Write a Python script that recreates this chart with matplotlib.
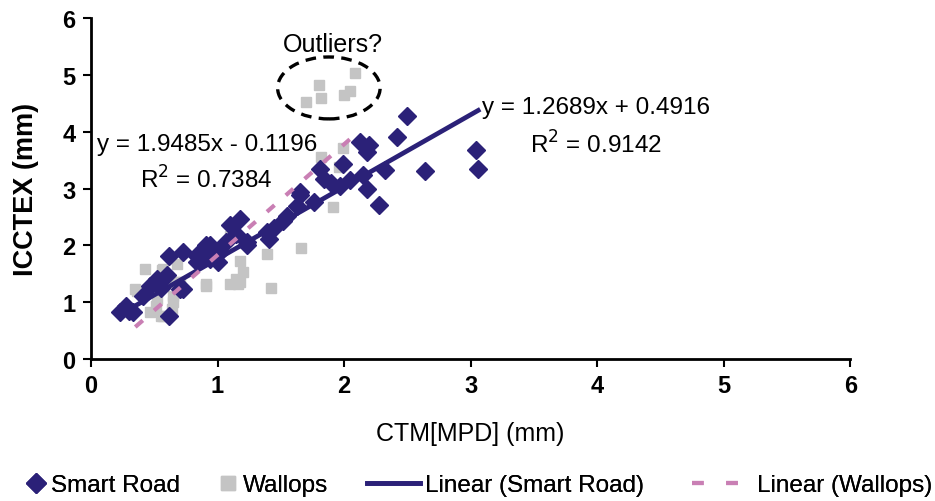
import numpy as np
import matplotlib
matplotlib.use("Agg")
import matplotlib.pyplot as plt
from matplotlib.patches import Ellipse
from matplotlib.lines import Line2D

plt.rcParams['font.family'] = ['Liberation Sans', 'DejaVu Sans']

# Smart Road (CTM MPD, ICCTEX), mm
smart_x = [0.23, 0.28, 0.33, 0.41, 0.47, 0.52, 0.60, 0.62, 0.62, 0.70, 0.73,
           0.73, 0.84, 0.84, 0.86, 0.91, 0.94, 0.94, 1.02, 1.07, 1.10, 1.18,
           1.23, 1.23, 1.39, 1.41, 1.52, 1.55, 1.63, 1.65, 1.65, 1.76, 1.81,
           1.84, 1.97, 1.99, 2.13, 2.15, 2.18, 2.18, 2.20, 2.28, 2.32, 2.42,
           2.50, 2.64, 3.04, 3.06, 0.30, 0.55, 1.00, 1.15, 1.45, 1.90, 2.05]
smart_y = [0.82, 0.94, 0.82, 1.11, 1.29, 1.41, 1.47, 1.82, 0.76, 1.23, 1.88,
           1.23, 1.82, 1.70, 1.88, 2.00, 2.00, 1.76, 1.88, 2.05, 2.35, 2.46,
           2.00, 2.05, 2.23, 2.11, 2.43, 2.52, 2.70, 2.93, 2.88, 2.76, 3.35,
           3.17, 3.05, 3.43, 3.82, 3.23, 3.64, 3.00, 3.76, 2.71, 3.33, 3.90,
           4.28, 3.31, 3.68, 3.35, 0.85, 1.25, 1.70, 2.20, 2.30, 3.10, 3.15]

# Wallops
wall_x = [0.35, 0.36, 0.43, 0.47, 0.51, 0.52, 0.55, 0.56, 0.57, 0.57, 0.60,
          0.64, 0.65, 0.65, 0.68, 0.68, 0.70, 0.91, 0.91, 1.10, 1.10, 1.15,
          1.16, 1.18, 1.18, 1.20, 1.39, 1.42, 1.66, 1.82, 1.91, 1.96, 1.99,
          1.70, 1.80, 1.82, 2.00, 2.05, 2.09]
wall_y = [1.23, 1.20, 1.58, 0.82, 0.94, 1.06, 0.76, 1.57, 1.58, 0.76, 1.35,
          0.88, 1.11, 1.00, 1.67, 1.35, 1.35, 1.29, 1.32, 2.16, 1.32, 1.41,
          1.32, 1.73, 1.35, 1.53, 1.85, 1.24, 1.95, 3.55, 2.68, 3.38, 3.71,
          4.53, 4.83, 4.59, 4.65, 4.72, 5.03]

smart_fit = (1.2689, 0.4916)
wall_fit = (1.9485, -0.1196)

navy = '#2b2178'
grey = '#c4c4c4'
pink = '#c97fb4'

fig = plt.figure(figsize=(9.35, 5.02), dpi=100)
ax = fig.add_axes([0.0973, 0.283, 0.812, 0.679])

h1, = ax.plot(smart_x, smart_y, 'D', color=navy, markersize=9.5,
              linestyle='none', zorder=3)
h2, = ax.plot(wall_x, wall_y, 's', color=grey, markersize=7,
              linestyle='none', zorder=2)

xs = np.array([min(smart_x), max(smart_x)])
h3, = ax.plot(xs, smart_fit[0] * xs + smart_fit[1], color=navy, lw=3.4,
              zorder=4)
xw = np.array([min(wall_x), max(wall_x)])
ax.plot(xw, wall_fit[0] * xw + wall_fit[1], color=pink, lw=3,
        dashes=(2.4, 3.6), zorder=4)
# legend handle for the dashed fit (longer gaps, as in the reference)
h4 = Line2D([], [], color=pink, lw=3, dashes=(2.8, 5.4))

ax.add_patch(Ellipse((1.88, 4.77), 0.81, 1.09, fill=False, ec='black',
                     lw=2.4, ls=(0, (3.2, 2.2)), zorder=5))
ax.text(1.91, 5.55, 'Outliers?', ha='center', va='center', fontsize=18)
ax.text(0.045, 3.79, 'y = 1.9485x - 0.1196', ha='left', va='center',
        fontsize=17.5)
ax.text(1.43, 3.17, r'R$^2$ = 0.7384', ha='right', va='center', fontsize=17.5)
ax.text(3.09, 4.44, 'y = 1.2689x + 0.4916', ha='left', va='center',
        fontsize=17.5)
ax.text(4.51, 3.79, r'R$^2$ = 0.9142', ha='right', va='center', fontsize=17.5)

ax.set_xlim(0, 6)
ax.set_ylim(0, 6)
ax.set_xticks(range(7))
ax.set_yticks(range(7))
ax.tick_params(axis='both', labelsize=17, width=1.5, length=6,
               direction='out', pad=5)
for lab in ax.get_xticklabels() + ax.get_yticklabels():
    lab.set_fontweight('bold')
ax.spines['top'].set_visible(False)
ax.spines['right'].set_visible(False)
ax.spines['left'].set_linewidth(2)
ax.spines['bottom'].set_linewidth(2)
ax.set_xlabel('CTM[MPD] (mm)', fontsize=18, labelpad=17)
ax.set_ylabel('ICCTEX (mm)', fontsize=19.5, fontweight='bold', labelpad=17)

# legend entries placed one by one, like the Excel legend row
# (handle, label, left px, handle length, text pad, marker scale)
entries = [
    (h1, 'Smart Road', 24, 1.0, 0.1, 1.1),
    (h2, 'Wallops', 216, 1.0, 0.1, 1.4),
    (h3, 'Linear (Smart Road)', 367, 2.18, 0.2, 1.0),
    (h4, 'Linear (Wallops)', 692, 1.93, 0.75, 1.0),
]
for handle, label, left_px, hlen, tpad, mscale in entries:
    leg = fig.legend([handle], [label], loc='center left',
                     bbox_to_anchor=(left_px / 935, 16 / 502),
                     frameon=False, fontsize=17.5, handlelength=hlen,
                     handletextpad=tpad, borderpad=0, borderaxespad=0,
                     markerscale=mscale)
    fig.add_artist(leg)

fig.savefig('out.png', dpi=100)
